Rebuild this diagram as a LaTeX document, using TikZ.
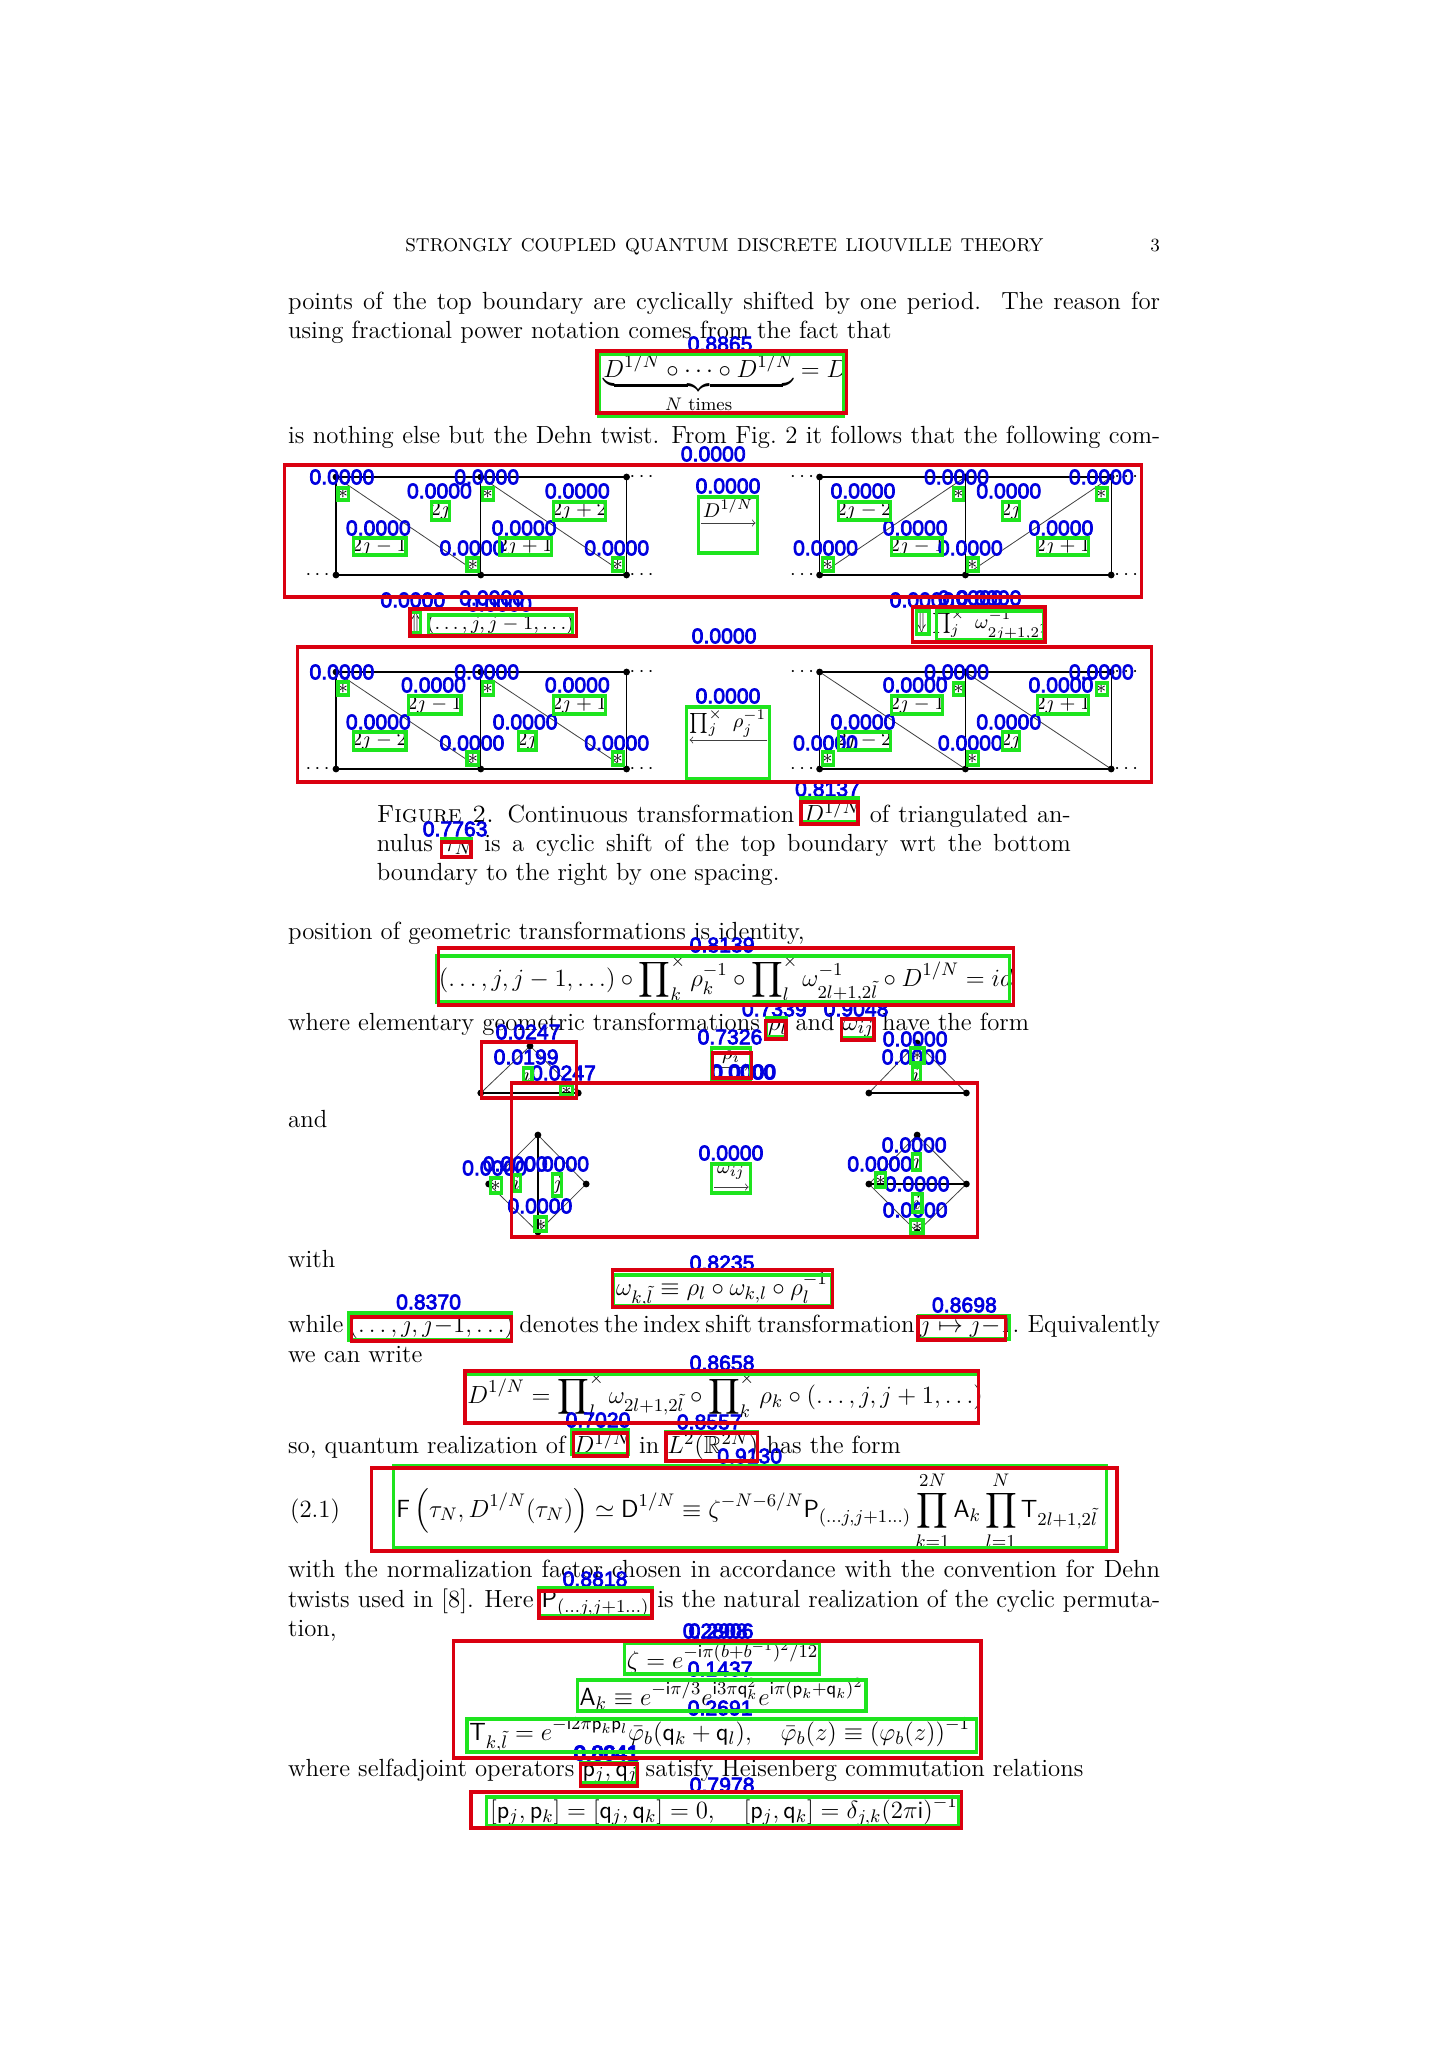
\documentclass[tikz,border=0pt]{standalone}
\usepackage{fix-cm}
\usepackage{amsmath}
\usepackage{amssymb}
\usepackage{graphicx}
\usepackage{fontspec}
\newfontfamily\scorefamily{Liberation Sans}[FakeBold=3.5]
\DeclareMathSizes{12.4}{12.4}{9.1}{7}
\DeclareMathSizes{9.95}{9.95}{7.4}{5.6}
\newcommand{\pagefs}{\fontsize{12.4}{14.5}\selectfont}
\newcommand{\figfs}{\fontsize{9.95}{11.6}\selectfont}
\newcommand{\headfs}{\fontsize{9.3}{11}\selectfont}
\definecolor{detred}{RGB}{218,0,16}
\definecolor{detgreen}{RGB}{30,228,30}
\definecolor{detblue}{RGB}{0,0,222}
\tikzset{
  pageline/.style={anchor=base west,inner sep=0pt,font=\pagefs},
  figlabel/.style={inner sep=0pt,font=\figfs},
  score/.style={inner sep=0pt,text=detblue,font=\fontsize{10.6}{12}\scorefamily},
  gbox/.style={draw=detgreen,line width=1.6pt},
  rbox/.style={draw=detred,line width=1.7pt},
  thinedge/.style={line width=0.4pt,color=black!75},
  sideedge/.style={line width=0.6pt},
  boldedge/.style={line width=1pt}
}
\begin{document}
\begin{tikzpicture}[x=0.4925pt,y=0.5pt,yscale=-1,xscale=1]
\useasboundingbox (-4.11,0) rectangle (1464.9,2048);

%Page head
\node [anchor=base west,inner sep=0pt,font=\headfs] (runhead) at (407,252) {\makebox[319pt][s]{STRONGLY COUPLED QUANTUM DISCRETE LIOUVILLE THEORY}};
\node [anchor=base east,inner sep=0pt,font=\headfs] (pagenum) at (1174,252) {3};

%Text lines
\node [pageline] (para1) at (288,310) {\makebox[436pt][s]{points of the top boundary are cyclically shifted by one period.\ \ The reason for}};
\node [pageline] (para2) at (288,339) {using fractional power notation comes from the fact that};
\node [pageline] (dehn) at (608,378) {$\displaystyle\underbrace{D^{1/N}\circ\cdots\circ D^{1/N}}_{\rule{0pt}{6.5pt}N\text{ times}}=D$};
\node [pageline] (para3) at (288,444) {\makebox[436pt][s]{is nothing else but the Dehn twist. From Fig.~2 it follows that the following com-}};
\node [pageline] (capa) at (378,822) {\makebox[347pt][s]{\textsc{Figure 2.} Continuous transformation $D^{1/N}$ of triangulated an-}};
\node [pageline] (capb) at (378,851) {\makebox[347pt][s]{nulus $\tau_N$ is a cyclic shift of the top boundary wrt the bottom}};
\node [pageline] (capc) at (378,880) {boundary to the right by one spacing.};
\node [pageline] (para4) at (288,939) {position of geometric transformations is identity,};
\node [pageline] (ideq) at (441,986) {$\displaystyle(\ldots,j,j-1,\ldots)\circ\prod\nolimits_k^\times\rho_k^{-1}\circ\prod\nolimits_l^\times\omega_{2l+1,2\tilde l}^{-1}\circ D^{1/N}=id$};
\node [pageline] (para5) at (288,1030) {where elementary geometric transformations $\rho_l$ and $\omega_{ij}$ have the form};
\node [pageline] (para6) at (288,1127) {and};
\node [pageline] (para7) at (288,1267) {with};
\node [pageline] (omeq) at (621,1295) {$\displaystyle\omega_{k,\tilde l}\equiv\rho_l\circ\omega_{k,l}\circ\rho_l^{-1}$};
\node [pageline] (para8) at (288,1332) {\makebox[436pt][s]{\spaceskip=.2em plus 1fil\relax while $(\ldots,j,j{-}1,\ldots)$ denotes the index shift transformation $j\mapsto j{-}1$. Equivalently}};
\node [pageline] (para9) at (288,1362) {we can write};
\node [pageline] (rooteq) at (470,1403) {$\displaystyle D^{1/N}=\prod\nolimits_l^\times\omega_{2l+1,2\tilde l}\circ\prod\nolimits_k^\times\rho_k\circ(\ldots,j,j+1,\ldots)$};
\node [pageline] (para10) at (288,1453) {so, quantum realization of $D^{1/N}$ in $L^2(\mathbb{R}^{2N})$ has the form};
\node [pageline] (eqnum) at (290,1517) {(2.1)};
\node [pageline] (maineq) at (398,1517) {$\displaystyle\mathsf{F}\left(\tau_N,D^{1/N}(\tau_N)\right)\simeq\mathsf{D}^{1/N}\equiv\zeta^{-N-6/N}\mathsf{P}_{(\ldots j,j+1\ldots)}\prod_{k=1}^{2N}\mathsf{A}_k\prod_{l=1}^{N}\mathsf{T}_{2l+1,2\tilde l}$};
\node [pageline] (para11) at (288,1577) {\makebox[436pt][s]{with the normalization factor chosen in accordance with the convention for Dehn}};
\node [pageline] (para12) at (288,1607) {\makebox[436pt][s]{twists used in [8]. Here $\mathsf{P}_{(\ldots j,j+1\ldots)}$ is the natural realization of the cyclic permuta-}};
\node [pageline] (para13) at (288,1636) {tion,};
\node [pageline] (zetaeq) at (632,1668) {$\displaystyle\zeta=e^{-\mathsf{i}\pi(b+b^{-1})^2/12}$};
\node [pageline] (aeq) at (584,1705) {$\displaystyle\mathsf{A}_k\equiv e^{-\mathsf{i}\pi/3}e^{\mathsf{i}3\pi\mathsf{q}_k^2}e^{\mathsf{i}\pi(\mathsf{p}_k+\mathsf{q}_k)^2}$};
\node [pageline] (teq) at (472,1740) {$\displaystyle\mathsf{T}_{k,\tilde l}=e^{-\mathsf{i}2\pi\mathsf{p}_k\mathsf{p}_l}\bar\varphi_b(\mathsf{q}_k+\mathsf{q}_l),\quad\bar\varphi_b(z)\equiv(\varphi_b(z))^{-1}$};
\node [pageline] (para14) at (288,1776) {where selfadjoint operators $\mathsf{p}_j,\mathsf{q}_j$ satisfy Heisenberg commutation relations};
\node [pageline] (commeq) at (493,1818) {$\displaystyle[\mathsf{p}_j,\mathsf{p}_k]=[\mathsf{q}_j,\mathsf{q}_k]=0,\quad[\mathsf{p}_j,\mathsf{q}_k]=\delta_{j,k}(2\pi\mathsf{i})^{-1}$};

%Upper row of annulus pictures
\draw [boldedge] (337,477) -- (632,477) (337,575) -- (632,575) ;
\draw [sideedge] (337,477) -- (337,575) (484,477) -- (484,575) (632,477) -- (632,575) ;
\draw [thinedge] (337,477) -- (484,575) (484,477) -- (632,575) ;
\draw [boldedge] (828,477) -- (1124,477) (828,575) -- (1124,575) ;
\draw [sideedge] (828,477) -- (828,575) (976,477) -- (976,575) (1124,477) -- (1124,575) ;
\draw [thinedge] (828,575) -- (976,477) (976,575) -- (1124,477) ;
\fill (337,477) circle (1.7pt) (484,477) circle (1.7pt) (632,477) circle (1.7pt) (337,575) circle (1.7pt) (484,575) circle (1.7pt) (632,575) circle (1.7pt) ;
\fill (828,477) circle (1.7pt) (976,477) circle (1.7pt) (1124,477) circle (1.7pt) (828,575) circle (1.7pt) (976,575) circle (1.7pt) (1124,575) circle (1.7pt) ;
\node [figlabel] (ua1) at (320,575) {$\cdots$};
\node [figlabel] (ua2) at (649,575) {$\cdots$};
\node [figlabel] (ua3) at (649,477) {$\cdots$};
\node [figlabel] (ua4) at (812,575) {$\cdots$};
\node [figlabel] (ua5) at (812,477) {$\cdots$};
\node [figlabel] (ua6) at (1141,575) {$\cdots$};
\node [figlabel] (ua7) at (1141,477) {$\cdots$};
\node [figlabel] (ua8) at (344,494) {$*$};
\node [figlabel] (ua9) at (491,494) {$*$};
\node [figlabel] (ua10) at (443,511) {$2j$};
\node [figlabel] (ua11) at (584,511) {$2j+2$};
\node [figlabel] (ua12) at (381,547) {$2j-1$};
\node [figlabel] (ua13) at (529,547) {$2j+1$};
\node [figlabel] (ua14) at (476,565) {$*$};
\node [figlabel] (ua15) at (623,565) {$*$};
\node [figlabel] (ua16) at (873,511) {$2j-2$};
\node [figlabel] (ua17) at (1022,511) {$2j$};
\node [figlabel] (ua18) at (927,547) {$2j-1$};
\node [figlabel] (ua19) at (1075,547) {$2j+1$};
\node [figlabel] (ua20) at (969,494) {$*$};
\node [figlabel] (ua21) at (1114,494) {$*$};
\node [figlabel] (ua22) at (836,565) {$*$};
\node [figlabel] (ua23) at (983,565) {$*$};
\node [figlabel] (ua24) at (735,508) {$D^{1/N}$};
\draw [->,thinedge] (708,523) -- (763,523) ;

%Vertical moves between the rows
\node [figlabel,font=\pagefs] (movea) at (418,622) {\scalebox{0.6}[1.15]{$\Uparrow$}};
\node [figlabel] (moveb) at (504,625) {$(\ldots,j,j-1,\ldots)$};
\node [figlabel,font=\pagefs] (movec) at (932,622) {\scalebox{0.6}[1.15]{$\Downarrow$}};
\node [figlabel] (moved) at (1001,625) {$\prod\nolimits_j^\times\ \omega_{2j+1,2\tilde j}^{-1}$};

%Lower row of annulus pictures
\draw [boldedge] (337,672) -- (632,672) (337,769) -- (632,769) ;
\draw [sideedge] (337,672) -- (337,769) (484,672) -- (484,769) (632,672) -- (632,769) ;
\draw [thinedge] (337,672) -- (484,769) (484,672) -- (632,769) ;
\draw [boldedge] (828,672) -- (1124,672) (828,769) -- (1124,769) ;
\draw [sideedge] (828,672) -- (828,769) (976,672) -- (976,769) (1124,672) -- (1124,769) ;
\draw [thinedge] (828,672) -- (976,769) (976,672) -- (1124,769) ;
\fill (337,672) circle (1.7pt) (484,672) circle (1.7pt) (632,672) circle (1.7pt) (337,769) circle (1.7pt) (484,769) circle (1.7pt) (632,769) circle (1.7pt) ;
\fill (828,672) circle (1.7pt) (976,672) circle (1.7pt) (1124,672) circle (1.7pt) (828,769) circle (1.7pt) (976,769) circle (1.7pt) (1124,769) circle (1.7pt) ;
\node [figlabel] (la1) at (320,769) {$\cdots$};
\node [figlabel] (la2) at (649,769) {$\cdots$};
\node [figlabel] (la3) at (649,672) {$\cdots$};
\node [figlabel] (la4) at (812,769) {$\cdots$};
\node [figlabel] (la5) at (812,672) {$\cdots$};
\node [figlabel] (la6) at (1141,769) {$\cdots$};
\node [figlabel] (la7) at (1141,672) {$\cdots$};
\node [figlabel] (la8) at (344,689) {$*$};
\node [figlabel] (la9) at (491,689) {$*$};
\node [figlabel] (la10) at (437,705) {$2j-1$};
\node [figlabel] (la11) at (584,705) {$2j+1$};
\node [figlabel] (la12) at (381,741) {$2j-2$};
\node [figlabel] (la13) at (531,741) {$2j$};
\node [figlabel] (la14) at (476,759) {$*$};
\node [figlabel] (la15) at (623,759) {$*$};
\node [figlabel] (la16) at (927,705) {$2j-1$};
\node [figlabel] (la17) at (1075,705) {$2j+1$};
\node [figlabel] (la18) at (873,741) {$2j-2$};
\node [figlabel] (la19) at (1022,741) {$2j$};
\node [figlabel] (la20) at (969,689) {$*$};
\node [figlabel] (la21) at (1114,689) {$*$};
\node [figlabel] (la22) at (836,759) {$*$};
\node [figlabel] (la23) at (983,759) {$*$};
\node [figlabel] (la24) at (735,723) {$\prod\nolimits_j^\times\ \rho_j^{-1}$};
\draw [->,thinedge] (775,740) -- (696,740) ;

%Triangles
\draw [boldedge] (484,1093) -- (583,1093) ;
\draw [thinedge] (484,1093) -- (534,1046) -- (583,1093) ;
\fill (484,1093) circle (1.7pt) (583,1093) circle (1.7pt) (534,1046) circle (1.7pt) ;
\node [figlabel] (tri1) at (531,1075) {$i$};
\node [figlabel] (tri2) at (571,1091) {$*$};
\draw [boldedge] (878,1093) -- (977,1093) ;
\draw [thinedge] (878,1093) -- (927,1043) -- (977,1093) ;
\fill (878,1093) circle (1.7pt) (977,1093) circle (1.7pt) (927,1043) circle (1.7pt) ;
\node [figlabel] (tri3) at (926,1075) {$i$};
\node [figlabel] (tri4) at (927,1056) {$*$};
\node [figlabel] (tri5) at (738,1057) {$\rho_i$};
\draw [->,thinedge] (721,1067) -- (756,1067) ;

%Diamonds
\draw [boldedge] (542,1135) -- (542,1232) ;
\draw [thinedge] (542,1135) -- (591,1184) -- (542,1232) -- (492,1184) -- cycle ;
\fill (542,1135) circle (1.7pt) (591,1184) circle (1.7pt) (542,1232) circle (1.7pt) (492,1184) circle (1.7pt) ;
\node [figlabel] (dia1) at (499,1186) {$*$};
\node [figlabel] (dia2) at (520,1183) {$i$};
\node [figlabel] (dia3) at (562,1185) {$j$};
\node [figlabel] (dia4) at (545,1225) {$*$};
\draw [boldedge] (878,1184) -- (977,1184) ;
\draw [thinedge] (927,1135) -- (977,1184) -- (927,1232) -- (878,1184) -- cycle ;
\fill (927,1135) circle (1.7pt) (977,1184) circle (1.7pt) (927,1232) circle (1.7pt) (878,1184) circle (1.7pt) ;
\node [figlabel] (dia5) at (926,1163) {$j$};
\node [figlabel] (dia6) at (890,1181) {$*$};
\node [figlabel] (dia7) at (927,1203) {$i$};
\node [figlabel] (dia8) at (927,1227) {$*$};
\node [figlabel] (dia9) at (738,1172) {$\omega_{ij}$};
\draw [->,thinedge] (721,1187) -- (756,1187) ;

%Scores
\node [score] (s1) at (727,344) {0.8865};
\node [score] (s2) at (720,454) {0.0000};
\node [score] (s3) at (343,477) {0.0000};
\node [score] (s4) at (490,477) {0.0000};
\node [score] (s5) at (442,491) {0.0000};
\node [score] (s6) at (582,491) {0.0000};
\node [score] (s7) at (380,528) {0.0000};
\node [score] (s8) at (528,528) {0.0000};
\node [score] (s9) at (475,548) {0.0000};
\node [score] (s10) at (622,548) {0.0000};
\node [score] (s11) at (735,486) {0.0000};
\node [score] (s12) at (967,477) {0.0000};
\node [score] (s13) at (1114,477) {0.0000};
\node [score] (s14) at (872,491) {0.0000};
\node [score] (s15) at (1020,491) {0.0000};
\node [score] (s16) at (925,528) {0.0000};
\node [score] (s17) at (1073,528) {0.0000};
\node [score] (s18) at (834,548) {0.0000};
\node [score] (s19) at (981,548) {0.0000};
\node [score] (s20) at (415,600) {0.0000};
\node [score] (s21) at (495,598) {0.0000};
\node [score] (s22) at (503,604) {0.0000};
\node [score] (s23) at (932,600) {0.0000};
\node [score] (s24) at (981,598) {0.0000};
\node [score] (s25) at (1000,598) {0.0000};
\node [score] (s26) at (731,636) {0.0000};
\node [score] (s27) at (343,672) {0.0000};
\node [score] (s28) at (490,672) {0.0000};
\node [score] (s29) at (436,685) {0.0000};
\node [score] (s30) at (582,685) {0.0000};
\node [score] (s31) at (380,722) {0.0000};
\node [score] (s32) at (529,722) {0.0000};
\node [score] (s33) at (475,743) {0.0000};
\node [score] (s34) at (622,743) {0.0000};
\node [score] (s35) at (735,696) {0.0000};
\node [score] (s36) at (925,685) {0.0000};
\node [score] (s37) at (967,672) {0.0000};
\node [score] (s38) at (1073,685) {0.0000};
\node [score] (s39) at (1114,672) {0.0000};
\node [score] (s40) at (872,722) {0.0000};
\node [score] (s41) at (1020,722) {0.0000};
\node [score] (s42) at (834,743) {0.0000};
\node [score] (s43) at (981,743) {0.0000};
\node [score] (s44) at (836,789) {0.8137};
\node [score] (s45) at (458,829) {0.7763};
\node [score] (s46) at (729,945) {0.8139};
\node [score] (s47) at (782,1009) {0.7339};
\node [score] (s48) at (865,1009) {0.9048};
\node [score] (s49) at (532,1032) {0.0247};
\node [score] (s50) at (530,1057) {0.0199};
\node [score] (s51) at (568,1073) {0.0247};
\node [score] (s52) at (737,1037) {0.7326};
\node [score] (s53) at (750,1072) {0.0000};
\node [score] (s54) at (751,1072) {0.0000};
\node [score] (s55) at (925,1039) {0.0000};
\node [score] (s56) at (924,1057) {0.0000};
\node [score] (s57) at (738,1153) {0.0000};
\node [score] (s58) at (498,1168) {0.0000};
\node [score] (s59) at (519,1164) {0.0000};
\node [score] (s60) at (561,1164) {0.0000};
\node [score] (s61) at (544,1206) {0.0000};
\node [score] (s62) at (924,1145) {0.0000};
\node [score] (s63) at (889,1164) {0.0000};
\node [score] (s64) at (927,1184) {0.0000};
\node [score] (s65) at (925,1210) {0.0000};
\node [score] (s66) at (729,1263) {0.8235};
\node [score] (s67) at (431,1302) {0.8370};
\node [score] (s68) at (975,1305) {0.8698};
\node [score] (s69) at (729,1363) {0.8658};
\node [score] (s70) at (603,1420) {0.7020};
\node [score] (s71) at (716,1422) {0.8557};
\node [score] (s72) at (757,1456) {0.9130};
\node [score] (s73) at (600,1579) {0.8818};
\node [score] (s74) at (722,1631) {0.2808};
\node [score] (s75) at (728,1631) {0.2906};
\node [score] (s76) at (727,1669) {0.1437};
\node [score] (s77) at (727,1708) {0.2691};
\node [score] (s78) at (611,1753) {0.8041};
\node [score] (s79) at (612,1753) {0.8641};
\node [score] (s80) at (729,1785) {0.7978};

%Green rectangles
\draw [gbox] (604,354) rectangle (852,416) ;
\draw [gbox] (339,488) rectangle (350,500) ;
\draw [gbox] (486,488) rectangle (497,500) ;
\draw [gbox] (434,502) rectangle (452,520) ;
\draw [gbox] (558,502) rectangle (611,520) ;
\draw [gbox] (355,538) rectangle (408,555) ;
\draw [gbox] (503,538) rectangle (556,555) ;
\draw [gbox] (470,558) rectangle (482,571) ;
\draw [gbox] (618,558) rectangle (629,571) ;
\draw [gbox] (705,497) rectangle (765,553) ;
\draw [gbox] (847,502) rectangle (900,520) ;
\draw [gbox] (1014,502) rectangle (1031,520) ;
\draw [gbox] (901,538) rectangle (953,555) ;
\draw [gbox] (1049,538) rectangle (1101,555) ;
\draw [gbox] (964,488) rectangle (974,500) ;
\draw [gbox] (1109,488) rectangle (1120,500) ;
\draw [gbox] (831,558) rectangle (842,571) ;
\draw [gbox] (978,558) rectangle (989,571) ;
\draw [gbox] (413,612) rectangle (423,633) ;
\draw [gbox] (431,615) rectangle (577,635) ;
\draw [gbox] (926,611) rectangle (939,634) ;
\draw [gbox] (947,611) rectangle (1055,640) ;
\draw [gbox] (339,682) rectangle (350,695) ;
\draw [gbox] (486,682) rectangle (497,695) ;
\draw [gbox] (411,696) rectangle (464,714) ;
\draw [gbox] (558,696) rectangle (611,714) ;
\draw [gbox] (355,732) rectangle (408,750) ;
\draw [gbox] (522,732) rectangle (540,750) ;
\draw [gbox] (470,752) rectangle (482,765) ;
\draw [gbox] (618,752) rectangle (629,765) ;
\draw [gbox] (693,707) rectangle (777,779) ;
\draw [gbox] (901,696) rectangle (953,714) ;
\draw [gbox] (964,683) rectangle (974,695) ;
\draw [gbox] (1049,696) rectangle (1101,714) ;
\draw [gbox] (1109,683) rectangle (1120,695) ;
\draw [gbox] (847,732) rectangle (900,750) ;
\draw [gbox] (1014,732) rectangle (1031,750) ;
\draw [gbox] (831,752) rectangle (842,765) ;
\draw [gbox] (978,752) rectangle (989,765) ;
\draw [gbox] (809,798) rectangle (867,822) ;
\draw [gbox] (444,839) rectangle (474,857) ;
\draw [gbox] (439,956) rectangle (1021,1002) ;
\draw [gbox] (774,1018) rectangle (794,1037) ;
\draw [gbox] (850,1019) rectangle (883,1038) ;
\draw [gbox] (527,1068) rectangle (536,1082) ;
\draw [gbox] (565,1085) rectangle (577,1095) ;
\draw [gbox] (718,1048) rectangle (758,1079) ;
\draw [gbox] (920,1048) rectangle (934,1063) ;
\draw [gbox] (922,1067) rectangle (930,1082) ;
\draw [gbox] (718,1164) rectangle (758,1193) ;
\draw [gbox] (494,1178) rectangle (505,1193) ;
\draw [gbox] (517,1175) rectangle (524,1191) ;
\draw [gbox] (557,1174) rectangle (566,1196) ;
\draw [gbox] (539,1217) rectangle (551,1231) ;
\draw [gbox] (922,1154) rectangle (930,1170) ;
\draw [gbox] (885,1173) rectangle (895,1187) ;
\draw [gbox] (922,1194) rectangle (932,1212) ;
\draw [gbox] (920,1220) rectangle (933,1233) ;
\draw [gbox] (619,1275) rectangle (840,1306) ;
\draw [gbox] (350,1313) rectangle (515,1340) ;
\draw [gbox] (928,1316) rectangle (1021,1339) ;
\draw [gbox] (468,1374) rectangle (989,1423) ;
\draw [gbox] (576,1430) rectangle (634,1454) ;
\draw [gbox] (672,1432) rectangle (765,1461) ;
\draw [gbox] (395,1466) rectangle (1119,1548) ;
\draw [gbox] (543,1588) rectangle (658,1616) ;
\draw [gbox] (630,1643) rectangle (828,1674) ;
\draw [gbox] (582,1680) rectangle (875,1711) ;
\draw [gbox] (470,1719) rectangle (987,1752) ;
\draw [gbox] (585,1763) rectangle (642,1783) ;
\draw [gbox] (490,1797) rectangle (969,1826) ;

%Red rectangles
\draw [rbox] (602,351) rectangle (855,413) ;
\draw [rbox] (285,465) rectangle (1155,597) ;
\draw [rbox] (412,609) rectangle (581,636) ;
\draw [rbox] (922,607) rectangle (1057,642) ;
\draw [rbox] (298,647) rectangle (1165,782) ;
\draw [rbox] (809,802) rectangle (867,824) ;
\draw [rbox] (444,842) rectangle (474,857) ;
\draw [rbox] (441,948) rectangle (1025,1005) ;
\draw [rbox] (773,1021) rectangle (794,1039) ;
\draw [rbox] (850,1019) rectangle (883,1040) ;
\draw [rbox] (485,1042) rectangle (581,1098) ;
\draw [rbox] (719,1053) rectangle (759,1078) ;
\draw [rbox] (515,1083) rectangle (988,1237) ;
\draw [rbox] (618,1270) rectangle (841,1307) ;
\draw [rbox] (353,1317) rectangle (515,1341) ;
\draw [rbox] (928,1317) rectangle (1017,1340) ;
\draw [rbox] (468,1371) rectangle (989,1423) ;
\draw [rbox] (578,1433) rectangle (633,1456) ;
\draw [rbox] (672,1433) rectangle (765,1461) ;
\draw [rbox] (373,1468) rectangle (1130,1551) ;
\draw [rbox] (543,1591) rectangle (658,1618) ;
\draw [rbox] (456,1641) rectangle (992,1758) ;
\draw [rbox] (585,1764) rectangle (643,1786) ;
\draw [rbox] (474,1792) rectangle (972,1828) ;
\end{tikzpicture}
\end{document}
